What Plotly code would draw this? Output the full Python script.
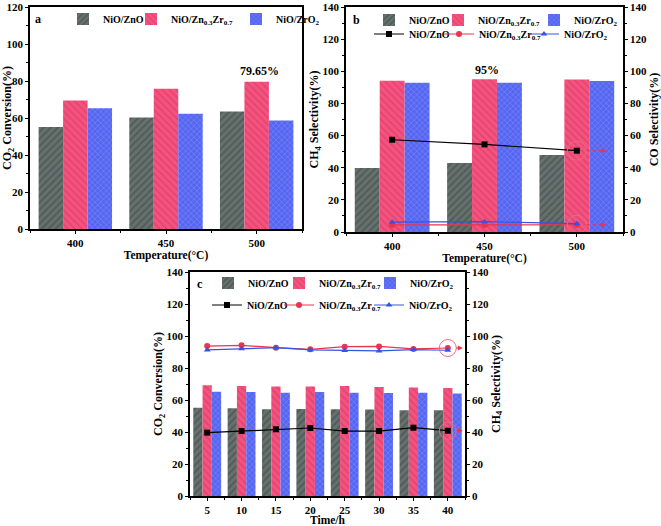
import plotly.graph_objects as go

# ---------------- data ----------------
temps = [400, 450, 500]
conv_zno_a = [55.2, 60.3, 63.5]
conv_znzr_a = [69.4, 75.8, 79.65]
conv_zro2_a = [65.3, 62.3, 58.7]

ch4_zno_b = [39.8, 42.9, 47.9]
ch4_znzr_b = [94.1, 95.0, 94.9]
ch4_zro2_b = [92.8, 92.8, 94.0]
co_zno_b = [57.4, 54.5, 50.6]
co_znzr_b = [4.4, 4.3, 4.5]
co_zro2_b = [6.1, 6.4, 5.2]

times = [5, 10, 15, 20, 25, 30, 35, 40]
conv_zno_c = [55.2, 54.8, 54.2, 54.4, 54.2, 54.0, 53.6, 53.6]
conv_znzr_c = [69.2, 68.8, 68.4, 68.4, 68.8, 68.1, 67.8, 67.5]
conv_zro2_c = [65.2, 65.0, 64.6, 65.0, 64.6, 64.4, 64.6, 64.0]
ch4_zno_c = [39.6, 40.6, 41.7, 42.5, 40.6, 40.6, 42.7, 40.8]
ch4_znzr_c = [93.7, 94.2, 92.7, 91.7, 93.3, 93.5, 91.9, 92.5]
ch4_zro2_c = [91.3, 92.1, 92.7, 91.3, 90.9, 90.7, 91.5, 91.1]

names = ["NiO/ZnO", "NiO/Zn<sub>0.3</sub>Zr<sub>0.7</sub>", "NiO/ZrO<sub>2</sub>"]

# ---------------- styles ----------------
W, H = 661, 526
FONT = "Liberation Serif"
bar_styles = [
    dict(color="#66716e", pattern=dict(shape="/", fgcolor="#3c4644", size=5, solidity=0.4)),
    dict(color="#f5527f", pattern=dict(shape="\\", fgcolor="#c9375f", size=5, solidity=0.3)),
    dict(color="#5666f1", pattern=dict(shape="x", fgcolor="#8a98fb", size=4, solidity=0.35)),
]
line_styles = [
    dict(color="black", symbol="square"),
    dict(color="#e8344f", symbol="circle"),
    dict(color="#3454e6", symbol="triangle-up"),
]

def px_x(p):
    return p / W

def px_y(p):
    return 1 - p / H

LEG_OFF = 38  # legend box left edge -> text start (px)

# legend slots: (text start x px, centre y px) per panel/row and series
leg_pos = {
    "a":   [(101, 19), (169, 19), (274, 19)],
    "b1":  [(407, 20), (476, 20), (572, 20)],
    "b2":  [(407, 34), (477, 34), (562, 34)],
    "c1":  [(246, 283), (317, 283), (408, 283)],
    "c2":  [(245, 305), (317, 305), (407, 305)],
}

fig = go.Figure()
legends = {}
leg_counter = [0]

def new_legend(tx, ty):
    leg_counter[0] += 1
    key = "legend" if leg_counter[0] == 1 else f"legend{leg_counter[0]}"
    legends[key] = dict(orientation="h", bgcolor="rgba(0,0,0,0)", xanchor="left", yanchor="middle",
                        x=px_x(tx - LEG_OFF), y=px_y(ty), font=dict(size=10),
                        itemwidth=30, tracegroupgap=0, borderwidth=0)
    return key

def add_bars(x, series, xa, ya, slot):
    for i, vals in enumerate(series):
        key = new_legend(*leg_pos[slot][i])
        fig.add_trace(go.Bar(
            x=x, y=vals, name=names[i], xaxis=xa, yaxis=ya,
            marker=dict(color=bar_styles[i]["color"], pattern=bar_styles[i]["pattern"], line=dict(width=0)),
            legend=key, offsetgroup=str(i), showlegend=True,
        ))

def add_lines(x, series, xa, ya, slot):
    for i, vals in enumerate(series):
        st = line_styles[i]
        key = new_legend(*leg_pos[slot][i])
        fig.add_trace(go.Scatter(
            x=x, y=vals, name=names[i], xaxis=xa, yaxis=ya, mode="lines+markers",
            line=dict(color=st["color"], width=1.2),
            marker=dict(color=st["color"], symbol=st["symbol"], size=6),
            legend=key, showlegend=True,
        ))

add_bars(temps, [conv_zno_a, conv_znzr_a, conv_zro2_a], "x", "y", "a")
add_bars(temps, [ch4_zno_b, ch4_znzr_b, ch4_zro2_b], "x2", "y2", "b1")
add_lines(temps, [co_zno_b, co_znzr_b, co_zro2_b], "x2", "y3", "b2")
add_bars(times, [conv_zno_c, conv_znzr_c, conv_zro2_c], "x3", "y4", "c1")
add_lines(times, [ch4_zno_c, ch4_znzr_c, ch4_zro2_c], "x3", "y5", "c2")

axis_common = dict(showline=True, linecolor="black", linewidth=1.5, ticks="outside",
                   ticklen=3, tickwidth=1.3, tickcolor="black", showgrid=False, zeroline=False,
                   tickfont=dict(size=11), automargin=False)

def xax(domain, anchor, rng, dtick, tick0_minor, title, standoff=0):
    return dict(axis_common, domain=domain, anchor=anchor, range=rng, dtick=dtick, tick0=0,
                mirror=True, title=dict(text=title, font=dict(size=11.5), standoff=standoff),
                minor=dict(ticks="outside", ticklen=2, tickcolor="black", dtick=dtick, tick0=tick0_minor, showgrid=False))

def yax(domain, anchor, rng, title, side="left", overlaying=None, mirror=False, standoff=1):
    d = dict(axis_common, domain=domain, anchor=anchor, range=rng, dtick=20, side=side,
             mirror=mirror, title=dict(text=title, font=dict(size=12), standoff=standoff),
             minor=dict(ticks="outside", ticklen=2, tickcolor="black", dtick=10, showgrid=False))
    if overlaying:
        d["overlaying"] = overlaying
    return d

dom_a_x = [px_x(30), px_x(302)]
dom_a_y = [px_y(229), px_y(7)]
dom_b_x = [px_x(346), px_x(623)]
dom_b_y = [px_y(232), px_y(7)]
dom_c_x = [px_x(190), px_x(465)]
dom_c_y = [px_y(496), px_y(272)]

temp_title = "Temperature(°C)"

fig.update_layout(
    width=W, height=H, margin=dict(l=0, r=0, t=0, b=0, autoexpand=False),
    paper_bgcolor="white", plot_bgcolor="white", showlegend=True,
    font=dict(family=FONT, size=11, color="black", weight="bold"),
    barmode="group", bargap=0.19, bargroupgap=0,
    xaxis=xax(dom_a_x, "y", [375, 525], 50, 375, temp_title),
    yaxis=yax(dom_a_y, "x", [0, 120], "CO<sub>2</sub> Conversion(%)", mirror=True),
    xaxis2=xax(dom_b_x, "y2", [375, 525], 50, 375, temp_title),
    yaxis2=yax(dom_b_y, "x2", [0, 140], "CH<sub>4</sub> Selectivity(%)", standoff=0),
    yaxis3=yax(dom_b_y, "x2", [0, 140], "CO Selectivity(%)", side="right", overlaying="y2"),
    xaxis3=xax(dom_c_x, "y4", [2.5, 42.5], 5, 2.5, "Time/h", standoff=1),
    yaxis4=yax(dom_c_y, "x3", [0, 140], "CO<sub>2</sub> Conversion(%)", standoff=0),
    yaxis5=yax(dom_c_y, "x3", [0, 140], "CH<sub>4</sub> Selectivity(%)", side="right", overlaying="y4"),
    **legends,
)

# panel letters
for txt, xp, yp in [("a", 38, 19), ("b", 356, 20), ("c", 200, 284)]:
    fig.add_annotation(text=txt, x=px_x(xp), y=px_y(yp), xref="paper", yref="paper",
                       showarrow=False, font=dict(size=12), xanchor="center", yanchor="middle")

# value labels
fig.add_annotation(text=f"{conv_znzr_a[2]}%", x=temps[2], y=conv_znzr_a[2], xref="x", yref="y",
                   showarrow=False, yanchor="bottom", yshift=2, xshift=3, font=dict(size=12))
fig.add_annotation(text=f"{ch4_znzr_b[1]:.0f}%", x=temps[1], y=ch4_znzr_b[1], xref="x2", yref="y2",
                   showarrow=False, yanchor="bottom", yshift=0, xshift=2, font=dict(size=12))

# highlight circles with dashed arrows
def highlight(xref, yref, xv, yv, r, a0, a1):
    fig.add_shape(type="circle", xref=xref, yref=yref, xsizemode="pixel", ysizemode="pixel",
                  xanchor=xv, yanchor=yv, x0=-r, x1=r, y0=-r, y1=r,
                  line=dict(color="#ee6a80", width=1))
    fig.add_shape(type="line", xref=xref, yref=yref, xsizemode="pixel", ysizemode="pixel",
                  xanchor=xv, yanchor=yv, x0=a0, x1=a1 - 2, y0=0, y1=0,
                  line=dict(color="#e8344f", width=1, dash="dot"))
    fig.add_annotation(x=xv, y=yv, xref=xref, yref=yref, text="", showarrow=True,
                       xshift=a1, ax=-5, ay=0, arrowhead=2, arrowsize=1, arrowwidth=1,
                       arrowcolor="#e8344f")

highlight("x2", "y3", temps[2], co_zno_b[2], 9.5, 9.5, 29)
highlight("x2", "y3", temps[2], co_znzr_b[2], 9.5, 9.5, 29)
highlight("x3", "y5", times[-1], ch4_znzr_c[-1], 8.5, 8.5, 15)
highlight("x3", "y5", times[-1], ch4_zno_c[-1], 8.5, 8.5, 15)

# remove the browser's default 8px page margin so the figure fills the window
fig.write_html("out.html", config={"displayModeBar": False},
               post_script="document.body.style.margin='0';")
